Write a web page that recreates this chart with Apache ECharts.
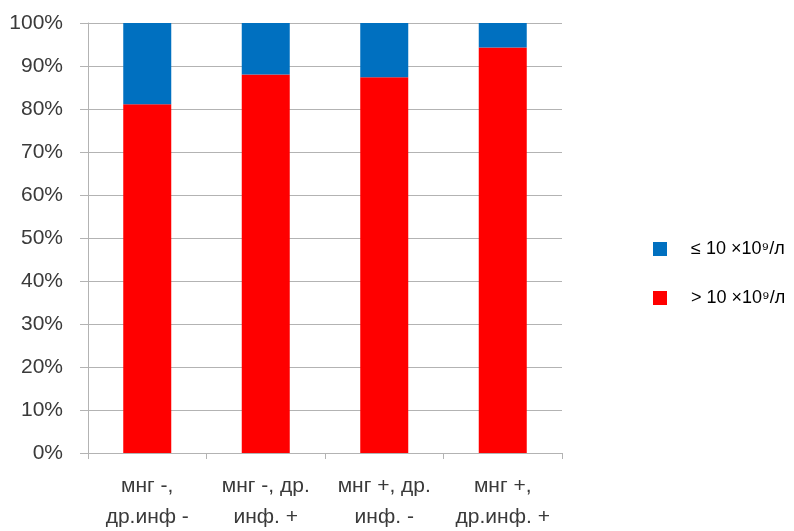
<!DOCTYPE html>
<html>
<head>
<meta charset="utf-8">
<script src="https://cdn.jsdelivr.net/npm/echarts@6/dist/echarts.min.js"></script>
<style>
  html, body { margin: 0; padding: 0; background: #ffffff; }
  #chart { width: 794px; height: 531px; }
</style>
</head>
<body>
<div id="chart"></div>
<script>
// Groups along the x axis
const categories = ['мнг -,\nдр.инф -', 'мнг -, др.\nинф. +', 'мнг +, др.\nинф. -', 'мнг +,\nдр.инф. +'];
// Share of patients, percent
const seriesHigh = [81.1, 88.0, 87.4, 94.3]; // > 10 ×10⁹/л
const seriesLow = [18.9, 12.0, 12.6, 5.7];   // ≤ 10 ×10⁹/л
const nameLow = '≤ 10 ×10⁹/л';
const nameHigh = '> 10 ×10⁹/л';
const yTicks = [0, 10, 20, 30, 40, 50, 60, 70, 80, 90, 100];

const FONT = 'Liberation Sans';
const TEXT = '#3a3a3a';
const GRID = '#b3b3b3';

const chart = echarts.init(document.getElementById('chart'), null, { renderer: 'canvas' });
chart.setOption({
  animation: false,
  backgroundColor: '#ffffff',
  grid: { left: 88, top: 23, right: 232, bottom: 78, containLabel: false, outerBoundsMode: 'none' },
  legend: {
    orient: 'vertical',
    left: 653,
    top: 240,
    padding: 0,
    itemWidth: 14,
    itemHeight: 14,
    itemGap: 31,
    icon: 'rect',
    data: [nameLow, nameHigh],
    textStyle: { fontFamily: FONT, fontSize: 18, color: '#000000', padding: [0, 0, 0, 19] }
  },
  xAxis: {
    type: 'category',
    data: categories,
    axisLine: { lineStyle: { color: GRID, width: 1 } },
    axisTick: { show: true, length: 6, lineStyle: { color: GRID } },
    axisLabel: {
      fontFamily: FONT, fontSize: 21, color: TEXT, lineHeight: 31, margin: 18, interval: 0
    }
  },
  yAxis: {
    type: 'value',
    min: yTicks[0],
    max: yTicks[yTicks.length - 1],
    interval: 10,
    axisLine: { show: true, lineStyle: { color: GRID, width: 1 } },
    axisTick: { show: true, length: 8, lineStyle: { color: GRID } },
    splitLine: { lineStyle: { color: GRID, width: 1 } },
    axisLabel: {
      fontFamily: FONT, fontSize: 21, color: TEXT, margin: 25,
      formatter: v => v + '%'
    }
  },
  series: [
    {
      name: nameHigh, type: 'bar', stack: 'total', data: seriesHigh,
      barWidth: 48, itemStyle: { color: '#ff0000' }
    },
    {
      name: nameLow, type: 'bar', stack: 'total', data: seriesLow,
      barWidth: 48, itemStyle: { color: '#0070c0' }
    }
  ]
});
</script>
</body>
</html>
